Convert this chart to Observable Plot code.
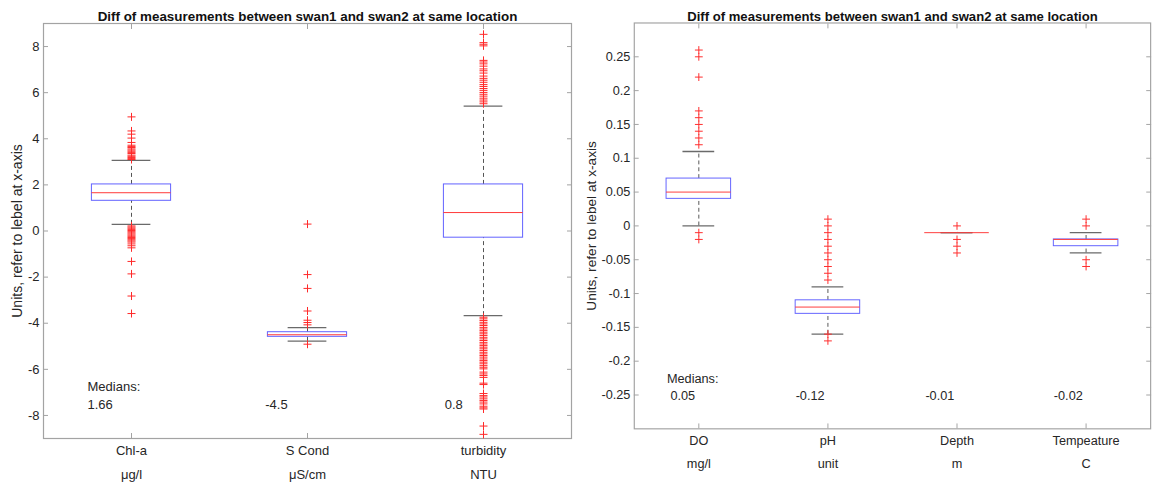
<!DOCTYPE html>
<html><head><meta charset="utf-8">
<script src="https://cdn.jsdelivr.net/npm/d3@7"></script>
<script src="https://cdn.jsdelivr.net/npm/@observablehq/plot@0.6"></script>
<style>
html,body{margin:0;padding:0;background:#fff;overflow:hidden;width:1157px;height:483px;position:relative;}
#left,#right{position:absolute;top:0;}
#left{left:0;} #right{left:580px;}
</style></head><body>
<div id="left"></div><div id="right"></div>
<script>
const title = "Diff of measurements between swan1 and swan2 at same location";
const yLabel = "Units, refer to lebel at x-axis";

// Left panel
const leftCategories = ["Chl-a", "S Cond", "turbidity"];
const leftUnits = ["μg/l", "μS/cm", "NTU"];
const leftQ1 = [1.31, -4.59, -0.29];
const leftMedian = [1.66, -4.5, 0.8];
const leftQ3 = [2.02, -4.39, 2.02];
const leftLowWhisker = [0.29, -4.78, -3.67];
const leftHighWhisker = [3.06, -4.19, 5.42];
const chlaOutliers = [4.95, 4.34, 4.2, 4.03, 3.84, 3.72, 3.66, 3.62, 3.56, 3.51, 3.46, 3.41, 3.36, 3.29, 3.24, 3.19, 3.14, 3.1,
  0.22, 0.17, 0.12, 0.07, 0.02, -0.03, -0.08, -0.13, -0.18, -0.23, -0.28, -0.33, -0.38, -0.43, -0.48, -0.56, -0.64, -0.73,
  -1.32, -1.86, -2.82, -3.58];
const sCondOutliers = [0.3, -1.89, -2.49, -3.47, -3.87, -3.97, -4.07, -4.91];
const turbidityOutliers = [8.53, 8.17, 8.1, 8.03, 7.4, 7.33, 7.25, 7.15, 7.03, 6.95, 6.85, 6.72, 6.62, 6.54, 6.45, 6.35,
  6.27, 6.18, 6.1, 6.01, 5.93, 5.85, 5.76, 5.68, 5.6, 5.52,
  -3.74, -3.81, -3.88, -3.96, -4.03, -4.1, -4.18, -4.25, -4.32, -4.39, -4.46, -4.53, -4.61, -4.68, -4.75, -4.83, -4.9,
  -4.97, -5.04, -5.11, -5.18, -5.26, -5.33, -5.4, -5.47, -5.55, -5.62, -5.69, -5.76, -5.84, -5.91, -5.98, -6.12, -6.2,
  -6.27, -6.35, -6.6, -6.66, -7.05, -7.14, -7.2, -7.28, -7.35, -7.42, -7.5, -7.6, -7.67, -7.72, -8.46, -8.82];
const leftYTicks = [-8, -6, -4, -2, 0, 2, 4, 6, 8];

// Right panel
const rightCategories = ["DO", "pH", "Depth", "Tempeature"];
const rightUnits = ["mg/l", "unit", "m", "C"];
const rightQ1 = [0.04, -0.13, -0.01, -0.03];
const rightMedian = [0.05, -0.12, -0.01, -0.02];
const rightQ3 = [0.07, -0.11, -0.01, -0.02];
const rightLowWhisker = [0, -0.16, -0.01, -0.04];
const rightHighWhisker = [0.11, -0.09, -0.01, -0.01];
const doOutliers = [0.26, 0.25, 0.22, 0.17, 0.16, 0.15, 0.14, 0.13, 0.12, -0.01, -0.02];
const phOutliers = [0.01, 0, -0.01, -0.02, -0.03, -0.04, -0.05, -0.06, -0.07, -0.08, -0.16, -0.17];
const depthOutliers = [0, -0.02, -0.03, -0.04];
const tempOutliers = [0.01, 0, -0.05, -0.06];
const rightYTicks = [-0.25, -0.2, -0.15, -0.1, -0.05, 0, 0.05, 0.1, 0.15, 0.2, 0.25];

const AXIS = "#a3a3a3";
const TEXT = "#262626";

function panel(cfg) {
  const {cats, units, q1, med, q3, lo, hi, outliers, yDomain, yTicks, width, marginLeft, marginRight,
         boxHalf, capHalf, yLabelDx, medX, medHeadX, medHeadY, medY} = cfg;
  const pos = cats.map((_, i) => i + 1);
  const boxes = cats.map((c, i) => ({x: i + 1, q1: q1[i], med: med[i], q3: q3[i], lo: lo[i], hi: hi[i]}));
  const pts = outliers.flatMap((arr, i) => arr.map(v => ({x: i + 1, y: v})));
  const medLabels = med.map((m, i) => ({x: medX[i], y: medY, text: String(m)}));
  return Plot.plot({
    width, height: 483, marginLeft, marginRight, marginTop: 23, marginBottom: 45,
    style: {fontFamily: "'Liberation Sans', Arial, Helvetica, sans-serif", fontSize: "13px", color: TEXT, background: "white", overflow: "visible"},
    x: {domain: [0.5, cats.length + 0.5]},
    y: {domain: yDomain},
    marks: [
      Plot.axisY({anchor: "left", ticks: yTicks, tickSize: -5, tickPadding: 9, label: null, stroke: AXIS, fill: TEXT, fontSize: 13, tickFormat: d => String(d)}),
      Plot.axisY({anchor: "right", ticks: yTicks, tickSize: -5, label: null, stroke: AXIS, tickFormat: () => ""}),
      Plot.axisX({anchor: "bottom", ticks: pos, tickSize: -5, tickPadding: 12, label: null, stroke: AXIS, fill: TEXT, fontSize: 13, tickFormat: d => cats[d - 1]}),
      Plot.axisX({anchor: "bottom", ticks: pos, tickSize: 0, tickPadding: 31, label: null, fill: TEXT, fontSize: 13, tickFormat: d => units[d - 1]}),
      Plot.axisX({anchor: "top", ticks: pos, tickSize: -5, label: null, stroke: AXIS, tickFormat: () => ""}),
      Plot.frame({stroke: AXIS, strokeWidth: 1.2}),
      Plot.ruleX(boxes, {x: "x", y1: "q3", y2: "hi", stroke: "#555", strokeDasharray: "4,3"}),
      Plot.ruleX(boxes, {x: "x", y1: "lo", y2: "q1", stroke: "#555", strokeDasharray: "4,3"}),
      Plot.ruleY(boxes, {y: "hi", x1: d => d.x - capHalf, x2: d => d.x + capHalf, stroke: "#6a6a6a", strokeWidth: 1.3}),
      Plot.ruleY(boxes, {y: "lo", x1: d => d.x - capHalf, x2: d => d.x + capHalf, stroke: "#6a6a6a", strokeWidth: 1.3}),
      Plot.rect(boxes, {x1: d => d.x - boxHalf, x2: d => d.x + boxHalf, y1: "q1", y2: "q3", fill: "none", stroke: "#6262ff", strokeWidth: 1}),
      Plot.ruleY(boxes, {y: "med", x1: d => d.x - boxHalf, x2: d => d.x + boxHalf, stroke: "#ff3a3a", strokeWidth: 1}),
      Plot.dot(pts, {x: "x", y: "y", symbol: "plus", r: 2.7, stroke: "#ff2a2a", strokeWidth: 1}),
      Plot.text(["Medians:"], {x: medHeadX, y: medHeadY, textAnchor: "start", fill: TEXT, fontSize: 13}),
      Plot.text(medLabels, {x: "x", y: "y", text: "text", textAnchor: "start", fill: TEXT, fontSize: 13}),
      Plot.text([title], {frameAnchor: "top", dy: -12, fontWeight: "bold", fontSize: 13.4, fill: "#111"}),
      Plot.text([yLabel], {frameAnchor: "left", rotate: -90, textAnchor: "middle", dx: yLabelDx, fontSize: 14, fill: TEXT})
    ]
  });
}

document.getElementById("left").append(panel({
  cats: leftCategories, units: leftUnits, q1: leftQ1, med: leftMedian, q3: leftQ3, lo: leftLowWhisker, hi: leftHighWhisker,
  outliers: [chlaOutliers, sCondOutliers, turbidityOutliers], yDomain: [-9, 9], yTicks: leftYTicks,
  width: 580, marginLeft: 43, marginRight: 9, boxHalf: 0.225, capHalf: 0.11, yLabelDx: -26,
  medX: [0.75, 1.76, 2.78], medHeadX: 0.75, medHeadY: -6.78, medY: -7.53
}));
document.getElementById("right").append(panel({
  cats: rightCategories, units: rightUnits, q1: rightQ1, med: rightMedian, q3: rightQ3, lo: rightLowWhisker, hi: rightHighWhisker,
  outliers: [doOutliers, phOutliers, depthOutliers, tempOutliers], yDomain: [-0.3, 0.3], yTicks: rightYTicks,
  width: 590, marginLeft: 55, marginRight: 7, boxHalf: 0.25, capHalf: 0.123, yLabelDx: -44,
  medX: [0.78, 1.75, 2.755, 3.75], medHeadX: 0.753, medHeadY: -0.2265, medY: -0.252
}));
</script>
</body></html>
